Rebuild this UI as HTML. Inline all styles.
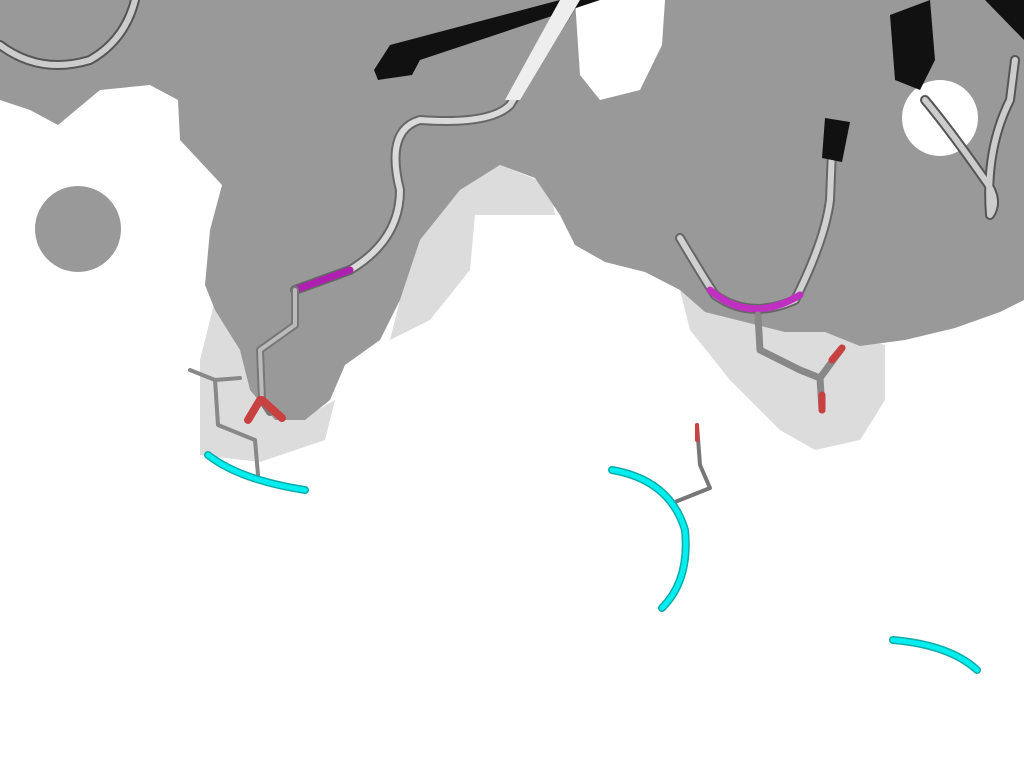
<!DOCTYPE html>
<html><head><meta charset="utf-8"><style>html,body{margin:0;padding:0;background:#fff;width:1024px;height:768px;overflow:hidden}</style></head>
<body>
<svg width="1024" height="768" viewBox="0 0 1024 768" xmlns="http://www.w3.org/2000/svg">
<g fill="#dcdcdc">
<path d="M215 300 L200 360 L200 455 L260 462 L325 440 L335 400 L300 420 L260 400 L240 350 Z"/>
<path d="M680 290 L690 330 L730 380 L780 430 L815 450 L860 440 L885 400 L885 345 L820 330 L740 320 Z"/>
<path d="M400 300 L390 340 L430 320 L470 270 L475 215 L530 215 L555 215 L550 185 L500 165 L460 190 L420 240 Z"/>
</g>
<path fill="#999999" d="M0 0 L0 100 L30 110 L58 125 L100 90 L150 85 L178 100 L180 140 L222 185 L210 230 L205 285 L215 310 L240 350 L250 390 L275 420 L305 420 L330 400 L345 365 L380 340 L400 300 L420 240 L460 190 L500 165 L535 178 L560 215 L575 245 L605 262 L645 272 L680 290 L705 312 L745 322 L785 332 L825 332 L860 346 L905 340 L955 328 L1000 312 L1024 300 L1024 0 L665 0 L662 45 L640 90 L600 100 L580 75 L575 0 Z"/>
<circle cx="78" cy="229" r="43" fill="#999999"/>
<circle cx="940" cy="118" r="38" fill="#fff"/>
<g fill="none" stroke-linecap="round" stroke-linejoin="round">
<path d="M0 45 Q40 75 90 60 Q125 40 135 0" stroke="#555" stroke-width="10"/>
<path d="M0 45 Q40 75 90 60 Q125 40 135 0" stroke="#ccc" stroke-width="6"/>
<path d="M295 290 L350 270 Q400 240 400 190 Q385 130 420 120 Q490 125 510 105 L575 0" stroke="#666" stroke-width="10"/>
<path d="M350 270 Q400 240 400 190 Q385 130 420 120 Q490 125 510 105 L575 0" stroke="#dadada" stroke-width="6"/>
<path d="M295 290 L350 270" stroke="#b020b0" stroke-width="7"/>
<path d="M680 238 Q705 280 715 295 Q750 320 795 300 Q825 240 830 200 L832 150" stroke="#666" stroke-width="10"/>
<path d="M680 238 Q705 280 715 295 Q750 320 795 300 Q825 240 830 200 L832 150" stroke="#d0d0d0" stroke-width="6"/>
<path d="M710 290 Q750 325 800 295" stroke="#c030c0" stroke-width="7"/>
<path d="M925 100 Q950 130 985 180 Q1000 200 990 215 Q985 150 1010 100 L1015 60" stroke="#555" stroke-width="10"/>
<path d="M925 100 Q950 130 985 180 Q1000 200 990 215 Q985 150 1010 100 L1015 60" stroke="#ccc" stroke-width="6"/>
<path d="M295 290 L295 325 L260 350 L262 400 L270 412" stroke="#777" stroke-width="8"/>
<path d="M295 290 L295 325 L260 350 L262 400" stroke="#bbb" stroke-width="4"/>
<path d="M260 400 L248 420 M262 400 L282 418" stroke="#c94040" stroke-width="8"/>
<path d="M215 380 L218 425 L255 440 L258 475 M215 380 L190 370 M215 380 L240 378" stroke="#888" stroke-width="4"/>
<path d="M758 315 L760 350 L800 370 L820 378 L822 410 M820 378 L842 348" stroke="#888" stroke-width="7"/>
<path d="M822 395 L822 410 M832 360 L842 348" stroke="#c94040" stroke-width="7"/>
<path d="M675 502 L710 488 L700 465 L697 425" stroke="#777" stroke-width="4"/>
<path d="M697 440 L697 425" stroke="#d04040" stroke-width="4"/>
<path d="M208 455 Q240 480 305 490" stroke="#1aa" stroke-width="8"/>
<path d="M208 455 Q240 480 305 490" stroke="#0ee" stroke-width="5"/>
<path d="M612 470 Q670 480 685 530 Q690 580 662 608" stroke="#1aa" stroke-width="8"/>
<path d="M612 470 Q670 480 685 530 Q690 580 662 608" stroke="#0ee" stroke-width="5"/>
<path d="M893 640 Q950 645 977 670" stroke="#1aa" stroke-width="8"/>
<path d="M893 640 Q950 645 977 670" stroke="#0ee" stroke-width="5"/>
</g>
<g fill="#111">
<polygon points="390,45 560,0 600,0 420,60 412,75 378,80 374,70"/>
<polygon points="560,0 580,0 520,100 505,100" fill="#eee"/>
<polygon points="825,118 850,122 842,162 822,158"/>
<polygon points="890,15 930,0 935,60 920,90 895,80"/>
<polygon points="985,0 1024,0 1024,40"/>
</g>
</svg>
</body></html>
